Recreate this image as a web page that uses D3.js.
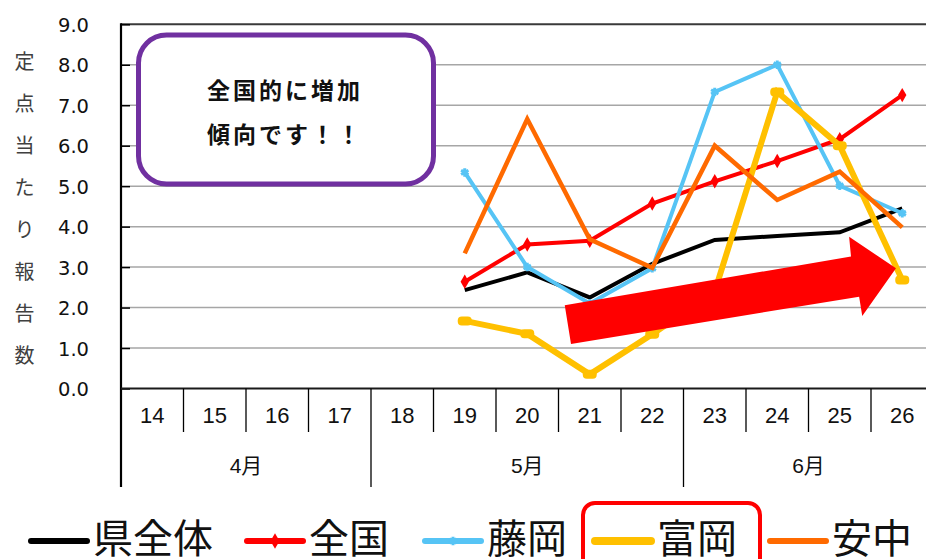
<!DOCTYPE html>
<html><head><meta charset="utf-8">
<script src="https://cdn.jsdelivr.net/npm/d3@7/dist/d3.min.js"></script>
<style>html,body{margin:0;padding:0;background:#fff;overflow:hidden}</style>
</head><body>
<svg id="c" width="926" height="559"></svg>
<script>
// ---- data ----
const weeks = [14,15,16,17,18,19,20,21,22,23,24,25,26];
const monthLabels = ["4月","5月","6月"];
const monthStarts = [14,18,23];
const monthEnds = [17,22,26];
const yTicks = [0,1,2,3,4,5,6,7,8,9];
const seriesNames = ["県全体","全国","藤岡","富岡","安中"];
const kenzentai = [null,null,null,null,null,2.43,2.87,2.25,3.08,3.67,3.77,3.86,4.45];
const zenkoku   = [null,null,null,null,null,2.64,3.56,3.65,4.57,5.12,5.62,6.16,7.25];
const fujioka   = [null,null,null,null,null,5.34,3.00,2.10,2.97,7.33,8.00,5.01,4.33];
const tomioka   = [null,null,null,null,null,1.67,1.35,0.35,1.34,2.40,7.33,6.00,2.68];
const annaka    = [null,null,null,null,null,3.34,6.66,3.69,2.98,6.00,4.66,5.36,3.98];
const yTitle = "定点当たり報告数";
const noteLines = ["全国的に増加","傾向です！！"];
// arrow annotation outline in (week, value) units
const arrowWeeks  = [20.6, 25.18, 25.15, 25.9, 25.36, 25.31, 20.7];
const arrowValues = [2.06, 3.26, 3.75, 2.97, 1.79, 2.27, 1.10];

// ---- layout ----
const svg = d3.select("#c");
const pLeft = 121, pTop = 24.3, pBottom = 388.5, bw = 62.5;
const pRight = pLeft + bw * weeks.length;
const x = d3.scaleBand().domain(weeks).range([pLeft, pRight]).paddingInner(0).paddingOuter(0);
const xc = w => x(w) + x.bandwidth()/2;
const xLin = d3.scaleLinear().domain([14,26]).range([xc(14), xc(26)]);
const y = d3.scaleLinear().domain([0,9]).range([pBottom, pTop]);

const styles = [
  {color:"#000000", width:4, marker:null},
  {color:"#FF0000", width:4, marker:"diamond"},
  {color:"#56C4F5", width:4, marker:"star"},
  {color:"#FFC000", width:6, marker:"dash"},
  {color:"#FF6A00", width:4.5, marker:null}
];
const allSeries = [kenzentai, zenkoku, fujioka, tomioka, annaka];

// gridlines
svg.append("g").selectAll("line").data(yTicks.filter(t => t>0 && t<9)).join("line")
  .attr("x1", pLeft).attr("x2", 926).attr("y1", d=>y(d)).attr("y2", d=>y(d))
  .attr("stroke","#a6a6a6").attr("stroke-width",1.5);
svg.append("line").attr("x1",pLeft).attr("x2",926).attr("y1",y(9)).attr("y2",y(9))
  .attr("stroke","#3a3a3a").attr("stroke-width",2);

// y axis
const yAxis = d3.axisLeft(y).tickValues(yTicks).tickFormat(d3.format(".1f")).tickSize(-9).tickPadding(40);
const ga = svg.append("g").attr("transform",`translate(${pLeft},0)`).call(yAxis);
ga.select(".domain").remove();
ga.selectAll(".tick line").attr("stroke","#000").attr("stroke-width",1.5);
ga.selectAll(".tick text").attr("font-family","DejaVu Sans").attr("font-size",19.5).attr("fill","#111")
  .attr("x",-32).attr("dy","0.36em");
svg.append("line").attr("x1",pLeft).attr("x2",pLeft).attr("y1",pTop-1).attr("y2",487)
  .attr("stroke","#000").attr("stroke-width",2.2);

// y title
svg.append("g").selectAll("text").data(Array.from(yTitle)).join("text")
  .attr("x",24.5).attr("y",(d,i)=>60+i*42).attr("text-anchor","middle").attr("dominant-baseline","central")
  .attr("font-family","Noto Sans CJK JP").attr("font-size",20).attr("fill","#404040").text(d=>d);

// x axis line & category table
svg.append("line").attr("x1",pLeft).attr("x2",926).attr("y1",pBottom).attr("y2",pBottom)
  .attr("stroke","#1a1a1a").attr("stroke-width",2);
svg.append("g").selectAll("line").data(weeks.slice(1)).join("line")
  .attr("x1",d=>x(d)).attr("x2",d=>x(d)).attr("y1",pBottom)
  .attr("y2",d=>monthStarts.includes(d)?487:432)
  .attr("stroke","#000").attr("stroke-width",1.3);
svg.append("g").selectAll("text").data(weeks).join("text")
  .attr("x",d=>xc(d)).attr("y",415).attr("text-anchor","middle").attr("dominant-baseline","central")
  .attr("font-family","Liberation Sans").attr("font-size",22).attr("fill","#111").text(d=>d);
svg.append("g").selectAll("text").data(monthLabels).join("text")
  .attr("x",(d,i)=>(x(monthStarts[i]) + x(monthEnds[i]) + bw)/2).attr("y",465)
  .attr("text-anchor","middle").attr("dominant-baseline","central")
  .attr("font-family","Liberation Sans, Noto Sans CJK JP").attr("font-size",21).attr("fill","#111").text(d=>d);

// annotation box
svg.append("rect").attr("x",138.5).attr("y",35).attr("width",295).attr("height",149).attr("rx",28)
  .attr("fill","#fff").attr("stroke","#7030A0").attr("stroke-width",5);
svg.append("g").selectAll("text").data(noteLines).join("text")
  .attr("x",207).attr("y",(d,i)=>89+i*44).attr("dominant-baseline","central")
  .attr("font-family","Noto Sans CJK JP").attr("font-weight","bold").attr("font-size",23)
  .attr("letter-spacing",3).attr("fill","#111").text(d=>d);

// series
const line = d3.line().defined(d=>d.v!=null).x(d=>xc(d.w)).y(d=>y(d.v));
allSeries.forEach((vals, si) => {
  const st = styles[si];
  const pts = weeks.map((w,i)=>({w, v: vals[i]}));
  const g = svg.append("g");
  g.append("path").attr("d", line(pts)).attr("fill","none").attr("stroke",st.color)
    .attr("stroke-width",st.width).attr("stroke-linejoin","miter");
  const dp = pts.filter(d=>d.v!=null);
  if (st.marker==="diamond") {
    g.selectAll("path.m").data(dp).join("path").attr("class","m")
      .attr("d", d3.symbol(d3.symbolDiamond, 60)())
      .attr("transform",d=>`translate(${xc(d.w)},${y(d.v)})`).attr("fill",st.color);
  } else if (st.marker==="star") {
    g.selectAll("path.m").data(dp).join("path").attr("class","m")
      .attr("d", d3.symbol(d3.symbolAsterisk, 50)())
      .attr("transform",d=>`translate(${xc(d.w)},${y(d.v)})`).attr("stroke",st.color).attr("stroke-width",3);
  } else if (st.marker==="dash") {
    g.selectAll("rect.m").data(dp).join("rect").attr("class","m")
      .attr("x",d=>xc(d.w)-7).attr("y",d=>y(d.v)-4.5).attr("width",14).attr("height",9).attr("rx",4)
      .attr("fill",st.color);
  }
});

// arrow annotation
const arrowPts = arrowWeeks.map((w,i)=>[xLin(w), y(arrowValues[i])]);
svg.append("polygon").attr("points", arrowPts.map(p=>p.join(",")).join(" ")).attr("fill","#FF0000");

// legend
const legX = [31, 247, 425, 595, 770];
const lg = svg.append("g");
seriesNames.forEach((n,i)=>{
  const st = styles[i];
  const g = lg.append("g").attr("transform",`translate(${legX[i]},541)`);
  g.append("line").attr("x1",0).attr("x2",56).attr("y1",0).attr("y2",0)
    .attr("stroke",st.color).attr("stroke-width",i===3?8:6).attr("stroke-linecap","round");
  if (st.marker==="diamond") g.append("path").attr("d",d3.symbol(d3.symbolDiamond,70)()).attr("transform","translate(28,0)").attr("fill",st.color);
  if (st.marker==="star") g.append("path").attr("d",d3.symbol(d3.symbolAsterisk,50)()).attr("transform","translate(28,0)").attr("stroke",st.color).attr("stroke-width",3);
  g.append("text").attr("x",62).attr("y",-5).attr("dominant-baseline","central")
    .attr("font-family","Noto Sans CJK JP").attr("font-size",40).attr("fill","#111").text(n);
});
lg.append("rect").attr("x",583).attr("y",503).attr("width",177).attr("height",90).attr("rx",12)
  .attr("fill","none").attr("stroke","#FF0000").attr("stroke-width",4);
</script>
</body></html>
